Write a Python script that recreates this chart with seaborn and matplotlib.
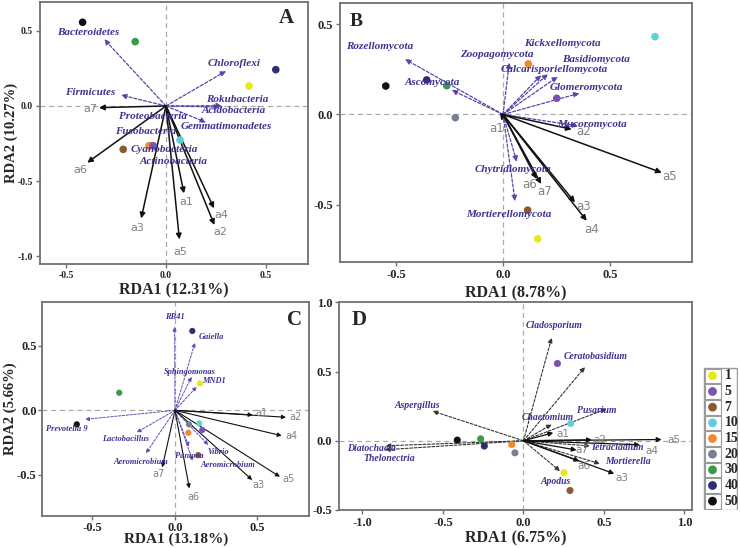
import numpy as np
import pandas as pd
import matplotlib
matplotlib.use("Agg")
import matplotlib.pyplot as plt
import seaborn as sns
from matplotlib.patches import Rectangle

# ---------------- data ----------------
groups = ["1", "5", "7", "10", "15", "20", "30", "40", "50"]
group_colors = ["#e9e619", "#7a52b0", "#8a5a30", "#5fd0d8", "#f5882a",
                "#76808e", "#3b9a48", "#2d2f6e", "#111111"]

env_names = ["a1", "a2", "a3", "a4", "a5", "a6", "a7"]

# Panel A (bacteria, phylum)
a_site_group = ["20", "15", "5", "7", "10", "1", "30", "40", "50"]
a_site_x = [-0.08, -0.085, -0.064, -0.214, 0.07, 0.415, -0.154, 0.549, -0.417]
a_site_y = [-0.265, -0.265, -0.265, -0.289, -0.227, 0.133, 0.429, 0.242, 0.558]
a_sp_names = ["Bacteroidetes", "Chloroflexi", "Firmicutes", "Rokubacteria", "Acidobacteria",
              "Gemmatimonadetes", "Proteobacteria", "Fusobacteria", "Cyanobacteria", "Actinobacteria"]
a_sp_x = [-0.309, 0.30, -0.225, 0.28, 0.27, 0.20, np.nan, np.nan, np.nan, np.nan]
a_sp_y = [0.445, 0.233, 0.073, 0.002, -0.007, -0.109, np.nan, np.nan, np.nan, np.nan]
a_sp_lx = [-0.39, 0.34, -0.38, 0.357, 0.34, 0.3025, -0.065, -0.10, -0.01, 0.04]
a_sp_ly = [0.493, 0.28, 0.093, 0.04, -0.033, -0.14, -0.073, -0.173, -0.293, -0.373]
a_env_x = [0.09, 0.242, -0.124, 0.24, 0.067, -0.394, -0.335]
a_env_y = [-0.582, -0.793, -0.749, -0.682, -0.889, -0.378, -0.011]
a_env_lx = [0.10, 0.27, -0.145, 0.275, 0.07, -0.43, -0.38]
a_env_ly = [-0.638, -0.842, -0.815, -0.727, -0.976, -0.427, -0.02]

# Panel B (fungi, phylum)
b_site_group = ["1", "5", "7", "10", "15", "20", "30", "40", "50"]
b_site_x = [0.162, 0.251, 0.115, 0.71, 0.118, -0.223, -0.263, -0.357, -0.548]
b_site_y = [-0.69, 0.09, -0.531, 0.432, 0.281, -0.018, 0.16, 0.192, 0.158]
b_sp_names = ["Rozellomycota", "Ascomycota", "Zoopagomycota", "Kickxellomycota",
              "Calcarisporiellomycota", "Basidiomycota", "Glomeromycota", "Mucoromycota",
              "Chytridiomycota", "Mortierellomycota"]
b_sp_x = [-0.458, -0.24, 0.029, 0.21, 0.178, 0.256, 0.357, 0.352, 0.064, 0.056]
b_sp_y = [0.307, 0.136, 0.288, 0.225, 0.219, 0.21, 0.118, -0.064, -0.262, -0.481]
b_sp_lx = [-0.575, -0.33, -0.028, 0.278, 0.238, 0.435, 0.391, 0.414, 0.047, 0.027]
b_sp_ly = [0.377, 0.177, 0.331, 0.392, 0.251, 0.307, 0.149, -0.058, -0.304, -0.554]
b_env_x = [-0.008, 0.321, 0.336, 0.391, 0.742, 0.157, 0.178]
b_env_y = [-0.035, -0.082, -0.488, -0.59, -0.323, -0.358, -0.386]
b_env_lx = [-0.028, 0.378, 0.378, 0.414, 0.78, 0.126, 0.196]
b_env_ly = [-0.077, -0.096, -0.512, -0.636, -0.342, -0.388, -0.425]

# Panel C (bacteria, genus)
c_site_group = ["1", "40", "30", "50", "20", "15", "10", "5", "7"]
c_site_x = [0.152, 0.105, -0.338, -0.595, 0.085, 0.081, 0.147, 0.165, 0.141]
c_site_y = [0.209, 0.615, 0.136, -0.109, -0.109, -0.174, -0.101, -0.153, -0.347]
c_sp_names = ["RB41", "Gaiella", "Sphingomonas", "MND1", "Prevotella 9", "Lactobacillus",
              "Aeromicrobium", "Pantoea", "Vibrio", "Aeromicrobium"]
c_sp_x = [-0.002, 0.121, 0.101, 0.132, -0.545, -0.232, -0.176, 0.085, 0.202, 0.107]
c_sp_y = [0.648, 0.524, 0.26, 0.183, -0.07, -0.171, -0.333, -0.282, -0.269, -0.391]
c_sp_lx = [0.0, 0.218, 0.091, 0.236, -0.655, -0.301, -0.206, 0.085, 0.261, 0.321]
c_sp_ly = [0.721, 0.566, 0.299, 0.227, -0.145, -0.225, -0.398, -0.354, -0.321, -0.424]
c_env_x = [0.471, 0.673, 0.468, 0.647, 0.636, 0.087, -0.077]
c_env_y = [-0.036, -0.054, -0.54, -0.197, -0.515, -0.605, -0.442]
c_env_lx = [0.521, 0.731, 0.503, 0.705, 0.685, 0.109, -0.097]
c_env_ly = [-0.018, -0.054, -0.579, -0.197, -0.535, -0.67, -0.494]

# Panel D (fungi, genus)
d_site_group = ["1", "5", "7", "10", "15", "20", "30", "40", "50"]
d_site_x = [0.252, 0.211, 0.289, 0.293, -0.073, -0.053, -0.266, -0.243, -0.411]
d_site_y = [-0.231, 0.558, -0.359, 0.125, -0.027, -0.087, 0.014, -0.038, 0.005]
d_sp_names = ["Cladosporium", "Ceratobasidium", "Pusarium", "Chaetomium", "Tetracladium",
              "Mortierella", "Apodus", "Aspergillus", "Diatochaeta", "Thelonectria"]
d_sp_x = [0.175, 0.382, 0.517, 0.175, 0.413, 0.475, 0.227, -0.564, -0.856, -0.86]
d_sp_y = [0.744, 0.532, 0.231, 0.118, -0.038, -0.166, -0.219, 0.214, -0.036, -0.065]
d_sp_lx = [0.189, 0.446, 0.455, 0.152, 0.584, 0.651, 0.202, -0.658, -0.941, -0.835]
d_sp_ly = [0.835, 0.612, 0.219, 0.166, -0.051, -0.152, -0.296, 0.255, -0.058, -0.13]
d_env_x = [0.185, 0.425, 0.564, 0.724, 0.858, 0.347, 0.33]
d_env_y = [0.058, 0.007, -0.238, -0.029, 0.009, -0.147, -0.067]
d_env_lx = [0.242, 0.473, 0.61, 0.80, 0.935, 0.375, 0.363]
d_env_ly = [0.051, 0.002, -0.272, -0.074, 0.005, -0.183, -0.067]

# ---------------- style ----------------
sns.set_style("ticks")
plt.rcParams["font.family"] = ["Liberation Serif", "DejaVu Serif"]
plt.rcParams["axes.unicode_minus"] = False

palette = dict(zip(groups, group_colors))
SERIF = ["Liberation Serif", "DejaVu Serif"]
SP_COLOR = "#3d3390"
SPINE = "#707070"

fig = plt.figure(figsize=(7.4, 5.48), dpi=100)


def make_ax(px_left, px_top, px_right, px_bottom):
    W, H = 740.0, 548.0
    return fig.add_axes([px_left / W, 1 - px_bottom / H,
                         (px_right - px_left) / W, (px_bottom - px_top) / H])


def arrow(ax, x, y, color, ls, lw, ms, z):
    if np.isnan(x) or np.isnan(y):
        return
    ax.annotate("", xy=(x, y), xytext=(0, 0),
                arrowprops=dict(arrowstyle="-|>", color=color, lw=lw, linestyle=ls,
                                mutation_scale=ms, shrinkA=0, shrinkB=0),
                zorder=z)


def panel(ax, site_g, site_x, site_y, sp_names, sp_x, sp_y, sp_lx, sp_ly,
          env_x, env_y, env_lx, env_ly, xlim, ylim, xticks, yticks,
          sp_color, sp_arrow_color, sp_fs, env_fs, dot_s, tick_fs, sp_lw, env_lw, head):
    ax.axhline(0, color="#aaaaaa", ls=(0, (4, 3)), lw=0.9, zorder=0)
    ax.axvline(0, color="#aaaaaa", ls=(0, (4, 3)), lw=0.9, zorder=0)
    for x, y in zip(sp_x, sp_y):
        arrow(ax, x, y, sp_arrow_color, (0, (2.5, 1.5)), sp_lw, head, 2)
    for x, y in zip(env_x, env_y):
        arrow(ax, x, y, "#111111", "-", env_lw, head, 2)
    df = pd.DataFrame({"x": site_x, "y": site_y, "group": site_g})
    sns.scatterplot(data=df, x="x", y="y", hue="group", palette=palette,
                    s=dot_s, edgecolor="none", linewidth=0, legend=False, ax=ax, zorder=3)
    for n, lx, ly in zip(sp_names, sp_lx, sp_ly):
        ax.text(lx, ly, n, color=sp_color, fontsize=sp_fs, fontweight="bold",
                fontstyle="italic", family=SERIF, ha="center", va="center", zorder=4)
    for n, lx, ly in zip(env_names, env_lx, env_ly):
        ax.text(lx, ly, n, color="#808080", fontsize=env_fs, family=["DejaVu Sans"],
                ha="center", va="center", zorder=4)
    ax.set_xlim(*xlim)
    ax.set_ylim(*ylim)
    ax.set_xticks(xticks)
    ax.set_yticks(yticks)
    ax.set_xticklabels([f"{t:.1f}" for t in xticks])
    ax.set_yticklabels([f"{t:.1f}" for t in yticks])
    ax.tick_params(direction="out", length=3, width=1, color=SPINE, labelsize=tick_fs, pad=2)
    for lab in ax.get_xticklabels() + ax.get_yticklabels():
        lab.set_fontweight("bold")
    for sp in ax.spines.values():
        sp.set_visible(True)
        sp.set_color(SPINE)
        sp.set_linewidth(1.3)
    ax.set_xlabel("")
    ax.set_ylabel("")


# Panel A
axA = make_ax(40, 2, 308, 264)
panel(axA, a_site_group, a_site_x, a_site_y, a_sp_names, a_sp_x, a_sp_y, a_sp_lx, a_sp_ly,
      a_env_x, a_env_y, a_env_lx, a_env_ly, (-0.63, 0.71), (-1.053, 0.693),
      [-0.5, 0.0, 0.5], [-1.0, -0.5, 0.0, 0.5], SP_COLOR, "#5546a8", 8, 8, 30, 7, 0.9, 1.1, 8)
axA.set_xlabel("RDA1 (12.31%)", fontsize=11.5, fontweight="bold", labelpad=2)
axA.set_ylabel("RDA2 (10.27%)", fontsize=10.5, fontweight="bold", labelpad=0)
axA.text(0.92, 0.94, "A", transform=axA.transAxes, fontsize=15, fontweight="bold",
         ha="center", va="center")

# Panel B
axB = make_ax(340, 3, 692, 262)
panel(axB, b_site_group, b_site_x, b_site_y, b_sp_names, b_sp_x, b_sp_y, b_sp_lx, b_sp_ly,
      b_env_x, b_env_y, b_env_lx, b_env_ly, (-0.762, 0.883), (-0.819, 0.619),
      [-0.5, 0.0, 0.5], [-0.5, 0.0, 0.5], SP_COLOR, "#5546a8", 8, 8.5, 30, 9, 0.9, 1.1, 8)
axB.set_xlabel("RDA1 (8.78%)", fontsize=11.5, fontweight="bold", labelpad=3)
axB.text(0.045, 0.93, "B", transform=axB.transAxes, fontsize=14, fontweight="bold",
         ha="center", va="center")

# Panel C
axC = make_ax(42.3, 302.3, 309.3, 516)
panel(axC, c_site_group, c_site_x, c_site_y, c_sp_names, c_sp_x, c_sp_y, c_sp_lx, c_sp_ly,
      c_env_x, c_env_y, c_env_lx, c_env_ly, (-0.804, 0.814), (-0.819, 0.837),
      [-0.5, 0.0, 0.5], [-0.5, 0.0, 0.5], SP_COLOR, "#5a50b0", 6, 7, 20, 9, 0.7, 0.8, 6)
axC.tick_params(pad=1)
axC.set_xlabel("RDA1 (13.18%)", fontsize=11, fontweight="bold", labelpad=-1)
axC.set_ylabel("RDA2 (5.66%)", fontsize=10.5, fontweight="bold", labelpad=0)
axC.text(0.945, 0.915, "C", transform=axC.transAxes, fontsize=15, fontweight="bold",
         ha="center", va="center")

# Panel D
axD = make_ax(339.3, 302.3, 691.7, 510)
panel(axD, d_site_group, d_site_x, d_site_y, d_sp_names, d_sp_x, d_sp_y, d_sp_lx, d_sp_ly,
      d_env_x, d_env_y, d_env_lx, d_env_ly, (-1.144, 1.045), (-0.5, 1.0),
      [-1.0, -0.5, 0.0, 0.5, 1.0], [-0.5, 0.0, 0.5, 1.0], SP_COLOR, "#333333", 7, 7.5, 26, 9,
      0.8, 0.9, 7)
axD.set_xlabel("RDA1 (6.75%)", fontsize=11.5, fontweight="bold", labelpad=1)
axD.text(0.055, 0.915, "D", transform=axD.transAxes, fontsize=15, fontweight="bold",
         ha="center", va="center")

# Legend (boxed entries)
legW, legH = 35.0, 143.0
leg = make_ax(703, 367, 703 + legW, 367 + legH)
leg.set_xlim(0, legW)
leg.set_ylim(legH, 0)
leg.axis("off")
leg.add_patch(Rectangle((0.5, 0.5), legW - 1, legH - 1, fill=False, edgecolor="#9a9a9a", lw=1))
row_h = (legH - 2) / len(groups)
for i, (g, c) in enumerate(zip(groups, group_colors)):
    y0 = 1 + i * row_h
    leg.add_patch(Rectangle((1.5, y0 + 0.5), 16, row_h - 1, fill=False,
                            edgecolor="#9a9a9a", lw=0.8))
    leg.scatter([9.5], [y0 + row_h / 2], s=40, color=c, edgecolor="none")
    leg.text(21.5, y0 + row_h / 2, g, fontsize=10, fontweight="bold", ha="left", va="center")

fig.savefig("out.png", dpi=100)
